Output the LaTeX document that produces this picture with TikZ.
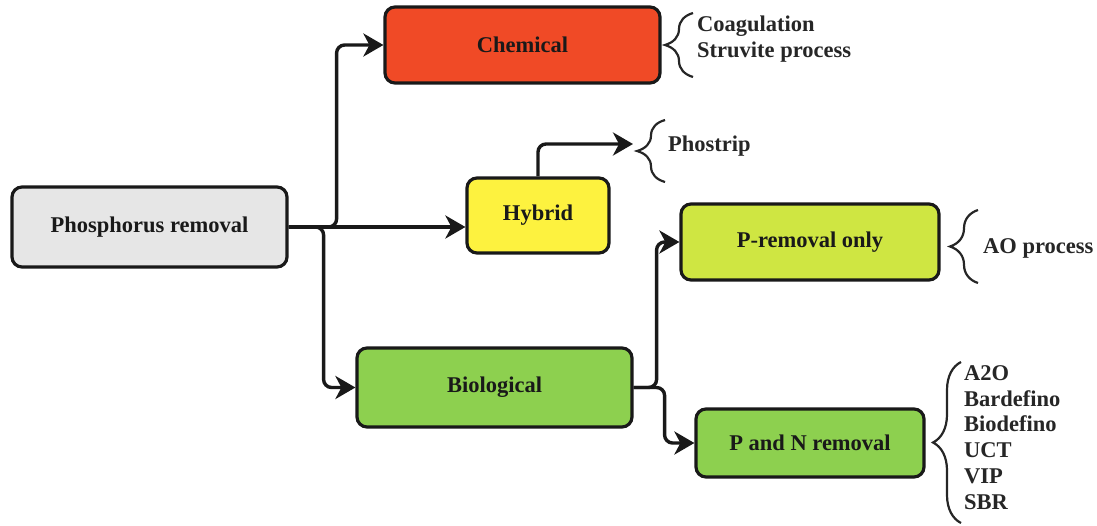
\documentclass[tikz,border=0pt]{standalone}
\usepackage{fontspec}
\setmainfont{Liberation Serif}
\usetikzlibrary{arrows.meta,decorations.pathreplacing}
\definecolor{cgray}{HTML}{E6E6E6}
\definecolor{cred}{HTML}{F04A26}
\definecolor{cyel}{HTML}{FDF23F}
\definecolor{clime}{HTML}{CFE642}
\definecolor{cgreen}{HTML}{8DD04F}
\begin{document}
\begin{tikzpicture}[x=1pt,y=-1pt,
  box/.style={draw=black!90,line width=3.2pt,rounded corners=10pt,inner sep=0pt,
    font=\fontsize{22.5}{26}\selectfont\bfseries,text=black!90},
  arr/.style={draw=black!90,line width=3.4pt,rounded corners=8pt,
    -{Stealth[length=20pt,width=23pt,inset=6pt]}},
  brc/.style={draw=black!85,line width=2.2pt,decorate,decoration={brace,amplitude=28pt}},
  lbl/.style={anchor=west,align=left,inner sep=0pt,
    font=\fontsize{22.5}{25.8}\selectfont\bfseries,text=black!85}]
\useasboundingbox (0,0) rectangle (1097,525);
% boxes
\node[box,fill=cgray,minimum width=275pt,minimum height=80pt] (pr) at (149.5,227) {Phosphorus removal};
\node[box,fill=cred,minimum width=275pt,minimum height=76pt] (ch) at (522.5,45) {Chemical};
\node[box,fill=cyel,minimum width=142pt,minimum height=75pt] (hy) at (538,215.5) {Hybrid};
\node[box,fill=clime,minimum width=258pt,minimum height=76pt] (pro) at (810,242) {P-removal only};
\node[box,fill=cgreen,minimum width=275pt,minimum height=79pt] (bio) at (494.5,387.5) {Biological};
\node[box,fill=cgreen,minimum width=228pt,minimum height=68pt] (pn) at (810,443) {P and N removal};
% brace tips
\coordinate (phtip) at (633,144);
% connectors
\draw[arr] (pr.east) -- (hy.west |- pr.east);
\draw[arr] (pr.east) -- ++(48,0) |- (ch.west);
\draw[arr] (pr.east) -- ++(35,0) |- (bio.west);
\draw[arr] (hy.north) |- (phtip);
\draw[arr] (bio.east) -- ++(23,0) |- (pro.west);
\draw[arr] (bio.east) -- ++(31,0) |- (pn.west);
% braces
\draw[brc] (693,77) -- (693,13);
\draw[brc] (665,182) -- (665,120);
\draw[brc] (978,283) -- (978,210);
\draw[brc] (961,523) -- (961,362);
% labels
\node[lbl] (l1) at (697,39) {Coagulation\\Struvite process};
\node[lbl] (l2) at (668,146) {Phostrip};
\node[lbl] (l3) at (983,248) {AO process};
\node[lbl] (l4) at (964,437.5) {A2O\\Bardefino\\Biodefino\\UCT\\VIP\\SBR};
\end{tikzpicture}
\end{document}
